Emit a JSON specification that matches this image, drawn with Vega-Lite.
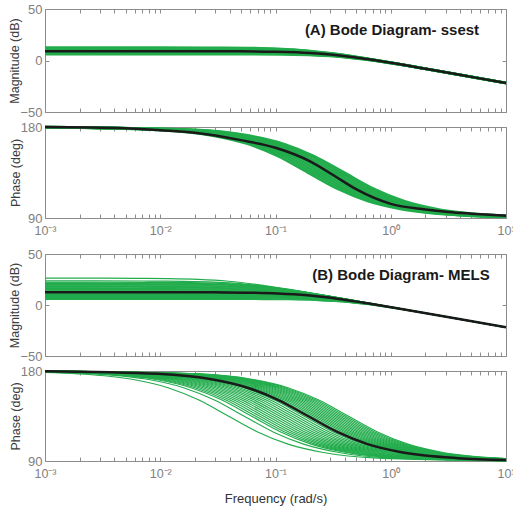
{
"$schema":"https://vega.github.io/schema/vega-lite/v6.json",
"background":"white",
"padding":{"left":8,"top":2,"right":1,"bottom":2},
"config":{"view":{"stroke":"#8c8c8c","strokeWidth":1},"font":"Liberation Sans",
"axis":{"labelFont":"Liberation Sans","titleFont":"Liberation Sans","labelColor":"#808080","tickColor":"#8c8c8c","domain":false,"grid":false,"labelFlush":false,"labelOverlap":false,"labelBound":false,"titleFontWeight":"normal","titleColor":"#3c3c3c","labelFontSize":13,"titleFontSize":12.5}},
"datasets":{
"A":[
{"c":1,"f":0.001,"m":12.5,"p":179.7},{"c":1,"f":0.009525,"m":12.49,"p":177.14},{"c":1,"f":0.02858,"m":12.4,"p":171.47},{"c":1,"f":0.05715,"m":12.13,"p":163.3},{"c":1,"f":0.1048,"m":11.35,"p":151.19},{"c":1,"f":0.1905,"m":9.49,"p":135},{"c":1,"f":0.3429,"m":6.23,"p":119.05},{"c":1,"f":0.6287,"m":1.75,"p":106.86},{"c":1,"f":1.238,"m":-3.86,"p":98.75},{"c":1,"f":3.81,"m":-13.53,"p":92.86},{"c":1,"f":10,"m":-21.9,"p":91.09},
{"c":2,"f":0.001,"m":11.7,"p":179.73},{"c":2,"f":0.01045,"m":11.69,"p":177.14},{"c":2,"f":0.03134,"m":11.6,"p":171.47},{"c":2,"f":0.06267,"m":11.33,"p":163.3},{"c":2,"f":0.1149,"m":10.55,"p":151.19},{"c":2,"f":0.2089,"m":8.69,"p":135},{"c":2,"f":0.376,"m":5.43,"p":119.05},{"c":2,"f":0.6894,"m":0.95,"p":106.86},{"c":2,"f":1.358,"m":-4.66,"p":98.75},{"c":2,"f":4.178,"m":-14.33,"p":92.86},{"c":2,"f":10,"m":-21.9,"p":91.2},
{"c":3,"f":0.001,"m":10.9,"p":179.75},{"c":3,"f":0.01146,"m":10.89,"p":177.14},{"c":3,"f":0.03437,"m":10.8,"p":171.47},{"c":3,"f":0.06873,"m":10.53,"p":163.3},{"c":3,"f":0.126,"m":9.75,"p":151.19},{"c":3,"f":0.2291,"m":7.89,"p":135},{"c":3,"f":0.4124,"m":4.63,"p":119.05},{"c":3,"f":0.756,"m":0.15,"p":106.86},{"c":3,"f":1.489,"m":-5.46,"p":98.75},{"c":3,"f":4.582,"m":-15.13,"p":92.86},{"c":3,"f":10,"m":-21.9,"p":91.31},
{"c":4,"f":0.001,"m":10.1,"p":179.77},{"c":4,"f":0.01256,"m":10.09,"p":177.14},{"c":4,"f":0.03768,"m":10.0,"p":171.47},{"c":4,"f":0.07536,"m":9.73,"p":163.3},{"c":4,"f":0.1382,"m":8.95,"p":151.19},{"c":4,"f":0.2512,"m":7.09,"p":135},{"c":4,"f":0.4522,"m":3.83,"p":119.05},{"c":4,"f":0.829,"m":-0.65,"p":106.86},{"c":4,"f":1.633,"m":-6.26,"p":98.75},{"c":4,"f":5.024,"m":-15.93,"p":92.86},{"c":4,"f":10,"m":-21.9,"p":91.44},
{"c":5,"f":0.001,"m":9.3,"p":179.79},{"c":5,"f":0.01377,"m":9.29,"p":177.14},{"c":5,"f":0.04131,"m":9.2,"p":171.47},{"c":5,"f":0.08262,"m":8.93,"p":163.3},{"c":5,"f":0.1515,"m":8.15,"p":151.19},{"c":5,"f":0.2754,"m":6.29,"p":135},{"c":5,"f":0.4957,"m":3.03,"p":119.05},{"c":5,"f":0.9088,"m":-1.45,"p":106.86},{"c":5,"f":1.79,"m":-7.06,"p":98.75},{"c":5,"f":5.508,"m":-16.73,"p":92.86},{"c":5,"f":10,"m":-21.9,"p":91.58},
{"c":6,"f":0.001,"m":8.5,"p":179.81},{"c":6,"f":0.0151,"m":8.49,"p":177.14},{"c":6,"f":0.0453,"m":8.4,"p":171.47},{"c":6,"f":0.0906,"m":8.13,"p":163.3},{"c":6,"f":0.1661,"m":7.35,"p":151.19},{"c":6,"f":0.302,"m":5.49,"p":135},{"c":6,"f":0.5436,"m":2.23,"p":119.05},{"c":6,"f":0.9966,"m":-2.25,"p":106.86},{"c":6,"f":1.963,"m":-7.86,"p":98.75},{"c":6,"f":6.04,"m":-17.53,"p":92.86},{"c":6,"f":10,"m":-21.9,"p":91.73},
{"c":7,"f":0.001,"m":7.7,"p":179.83},{"c":7,"f":0.01656,"m":7.69,"p":177.14},{"c":7,"f":0.04967,"m":7.6,"p":171.47},{"c":7,"f":0.09933,"m":7.33,"p":163.3},{"c":7,"f":0.1821,"m":6.55,"p":151.19},{"c":7,"f":0.3311,"m":4.69,"p":135},{"c":7,"f":0.596,"m":1.43,"p":119.05},{"c":7,"f":1.093,"m":-3.05,"p":106.86},{"c":7,"f":2.152,"m":-8.66,"p":98.75},{"c":7,"f":6.622,"m":-18.33,"p":92.86},{"c":7,"f":10,"m":-21.9,"p":91.9},
{"c":8,"f":0.001,"m":6.9,"p":179.84},{"c":8,"f":0.01816,"m":6.89,"p":177.14},{"c":8,"f":0.05447,"m":6.8,"p":171.47},{"c":8,"f":0.1089,"m":6.53,"p":163.3},{"c":8,"f":0.1997,"m":5.75,"p":151.19},{"c":8,"f":0.3631,"m":3.89,"p":135},{"c":8,"f":0.6536,"m":0.63,"p":119.05},{"c":8,"f":1.198,"m":-3.85,"p":106.86},{"c":8,"f":2.36,"m":-9.46,"p":98.75},{"c":8,"f":7.262,"m":-19.13,"p":92.86},{"c":8,"f":10,"m":-21.9,"p":92.08},
{"c":9,"f":0.001,"m":6.2,"p":179.85},{"c":9,"f":0.01968,"m":6.19,"p":177.14},{"c":9,"f":0.05904,"m":6.1,"p":171.47},{"c":9,"f":0.1181,"m":5.83,"p":163.3},{"c":9,"f":0.2165,"m":5.05,"p":151.19},{"c":9,"f":0.3936,"m":3.19,"p":135},{"c":9,"f":0.7085,"m":-0.07,"p":119.05},{"c":9,"f":1.299,"m":-4.55,"p":106.86},{"c":9,"f":2.558,"m":-10.16,"p":98.75},{"c":9,"f":7.872,"m":-19.83,"p":92.86},{"c":9,"f":10,"m":-21.9,"p":92.26}
],
"KA":[
{"f":0.001,"m":9.0,"p":180},{"f":0.005,"m":9.0,"p":178.8},{"f":0.01,"m":9.0,"p":176.8},{"f":0.02,"m":8.98,"p":174.3},{"f":0.05,"m":8.87,"p":167},{"f":0.1,"m":8.5,"p":159.5},{"f":0.2,"m":7.3,"p":146},{"f":0.316,"m":5.5,"p":132.5},{"f":0.5,"m":2.9,"p":118.5},{"f":1,"m":-2.2,"p":104},{"f":2,"m":-8.0,"p":98.5},{"f":3.16,"m":-11.9,"p":96},{"f":5,"m":-15.9,"p":94.3},{"f":10,"m":-21.9,"p":92.2}
],
"B":[
{"c":1,"f":0.001,"m":26.3,"p":178.53},{"c":1,"f":0.001945,"m":26.29,"p":177.14},{"c":1,"f":0.005835,"m":26.2,"p":171.47},{"c":1,"f":0.01167,"m":25.93,"p":163.3},{"c":1,"f":0.0214,"m":25.15,"p":151.19},{"c":1,"f":0.0389,"m":23.29,"p":135},{"c":1,"f":0.07002,"m":20.03,"p":119.05},{"c":1,"f":0.1284,"m":15.55,"p":106.86},{"c":1,"f":0.2529,"m":9.94,"p":98.75},{"c":1,"f":0.778,"m":0.27,"p":92.86},{"c":1,"f":10,"m":-21.9,"p":90.22},
{"c":2,"f":0.001,"m":23.6,"p":178.92},{"c":2,"f":0.002655,"m":23.59,"p":177.14},{"c":2,"f":0.007964,"m":23.5,"p":171.47},{"c":2,"f":0.01593,"m":23.23,"p":163.3},{"c":2,"f":0.0292,"m":22.45,"p":151.19},{"c":2,"f":0.05309,"m":20.59,"p":135},{"c":2,"f":0.09556,"m":17.33,"p":119.05},{"c":2,"f":0.1752,"m":12.85,"p":106.86},{"c":2,"f":0.3451,"m":7.24,"p":98.75},{"c":2,"f":1.062,"m":-2.43,"p":92.86},{"c":2,"f":10,"m":-21.9,"p":90.3},
{"c":3,"f":0.001,"m":22.3,"p":179.07},{"c":3,"f":0.003083,"m":22.29,"p":177.14},{"c":3,"f":0.009249,"m":22.2,"p":171.47},{"c":3,"f":0.0185,"m":21.93,"p":163.3},{"c":3,"f":0.03391,"m":21.15,"p":151.19},{"c":3,"f":0.06166,"m":19.29,"p":135},{"c":3,"f":0.111,"m":16.03,"p":119.05},{"c":3,"f":0.2035,"m":11.55,"p":106.86},{"c":3,"f":0.4008,"m":5.94,"p":98.75},{"c":3,"f":1.233,"m":-3.73,"p":92.86},{"c":3,"f":10,"m":-21.9,"p":90.35},
{"c":4,"f":0.001,"m":21.6,"p":179.14},{"c":4,"f":0.003342,"m":21.59,"p":177.14},{"c":4,"f":0.01002,"m":21.5,"p":171.47},{"c":4,"f":0.02005,"m":21.23,"p":163.3},{"c":4,"f":0.03676,"m":20.45,"p":151.19},{"c":4,"f":0.06683,"m":18.59,"p":135},{"c":4,"f":0.1203,"m":15.33,"p":119.05},{"c":4,"f":0.2205,"m":10.85,"p":106.86},{"c":4,"f":0.4344,"m":5.24,"p":98.75},{"c":4,"f":1.337,"m":-4.43,"p":92.86},{"c":4,"f":10,"m":-21.9,"p":90.38},
{"c":5,"f":0.001,"m":20.9,"p":179.21},{"c":5,"f":0.003622,"m":20.89,"p":177.14},{"c":5,"f":0.01087,"m":20.8,"p":171.47},{"c":5,"f":0.02173,"m":20.53,"p":163.3},{"c":5,"f":0.03984,"m":19.75,"p":151.19},{"c":5,"f":0.07244,"m":17.89,"p":135},{"c":5,"f":0.1304,"m":14.63,"p":119.05},{"c":5,"f":0.2391,"m":10.15,"p":106.86},{"c":5,"f":0.4709,"m":4.54,"p":98.75},{"c":5,"f":1.449,"m":-5.13,"p":92.86},{"c":5,"f":10,"m":-21.9,"p":90.42},
{"c":6,"f":0.001,"m":20.2,"p":179.27},{"c":6,"f":0.003926,"m":20.19,"p":177.14},{"c":6,"f":0.01178,"m":20.1,"p":171.47},{"c":6,"f":0.02356,"m":19.83,"p":163.3},{"c":6,"f":0.04319,"m":19.05,"p":151.19},{"c":6,"f":0.07852,"m":17.19,"p":135},{"c":6,"f":0.1413,"m":13.93,"p":119.05},{"c":6,"f":0.2591,"m":9.45,"p":106.86},{"c":6,"f":0.5104,"m":3.84,"p":98.75},{"c":6,"f":1.57,"m":-5.83,"p":92.86},{"c":6,"f":10,"m":-21.9,"p":90.45},
{"c":7,"f":0.001,"m":19.5,"p":179.33},{"c":7,"f":0.004256,"m":19.49,"p":177.14},{"c":7,"f":0.01277,"m":19.4,"p":171.47},{"c":7,"f":0.02553,"m":19.13,"p":163.3},{"c":7,"f":0.04681,"m":18.35,"p":151.19},{"c":7,"f":0.08511,"m":16.49,"p":135},{"c":7,"f":0.1532,"m":13.23,"p":119.05},{"c":7,"f":0.2809,"m":8.75,"p":106.86},{"c":7,"f":0.5532,"m":3.14,"p":98.75},{"c":7,"f":1.702,"m":-6.53,"p":92.86},{"c":7,"f":10,"m":-21.9,"p":90.49},
{"c":8,"f":0.001,"m":18.8,"p":179.38},{"c":8,"f":0.004613,"m":18.79,"p":177.14},{"c":8,"f":0.01384,"m":18.7,"p":171.47},{"c":8,"f":0.02768,"m":18.43,"p":163.3},{"c":8,"f":0.05074,"m":17.65,"p":151.19},{"c":8,"f":0.09226,"m":15.79,"p":135},{"c":8,"f":0.1661,"m":12.53,"p":119.05},{"c":8,"f":0.3045,"m":8.05,"p":106.86},{"c":8,"f":0.5997,"m":2.44,"p":98.75},{"c":8,"f":1.845,"m":-7.23,"p":92.86},{"c":8,"f":10,"m":-21.9,"p":90.53},
{"c":9,"f":0.001,"m":18.1,"p":179.43},{"c":9,"f":0.005,"m":18.09,"p":177.14},{"c":9,"f":0.015,"m":18.0,"p":171.47},{"c":9,"f":0.03,"m":17.73,"p":163.3},{"c":9,"f":0.055,"m":16.95,"p":151.19},{"c":9,"f":0.1,"m":15.09,"p":135},{"c":9,"f":0.18,"m":11.83,"p":119.05},{"c":9,"f":0.33,"m":7.35,"p":106.86},{"c":9,"f":0.65,"m":1.74,"p":98.75},{"c":9,"f":2,"m":-7.93,"p":92.86},{"c":9,"f":10,"m":-21.9,"p":90.57},
{"c":10,"f":0.001,"m":17.4,"p":179.47},{"c":10,"f":0.00542,"m":17.39,"p":177.14},{"c":10,"f":0.01626,"m":17.3,"p":171.47},{"c":10,"f":0.03252,"m":17.03,"p":163.3},{"c":10,"f":0.05962,"m":16.25,"p":151.19},{"c":10,"f":0.1084,"m":14.39,"p":135},{"c":10,"f":0.1951,"m":11.13,"p":119.05},{"c":10,"f":0.3577,"m":6.65,"p":106.86},{"c":10,"f":0.7046,"m":1.04,"p":98.75},{"c":10,"f":2.168,"m":-8.63,"p":92.86},{"c":10,"f":10,"m":-21.9,"p":90.62},
{"c":11,"f":0.001,"m":16.7,"p":179.51},{"c":11,"f":0.005875,"m":16.69,"p":177.14},{"c":11,"f":0.01763,"m":16.6,"p":171.47},{"c":11,"f":0.03525,"m":16.33,"p":163.3},{"c":11,"f":0.06463,"m":15.55,"p":151.19},{"c":11,"f":0.1175,"m":13.69,"p":135},{"c":11,"f":0.2115,"m":10.43,"p":119.05},{"c":11,"f":0.3878,"m":5.95,"p":106.86},{"c":11,"f":0.7638,"m":0.34,"p":98.75},{"c":11,"f":2.35,"m":-9.33,"p":92.86},{"c":11,"f":10,"m":-21.9,"p":90.67},
{"c":12,"f":0.001,"m":16.0,"p":179.55},{"c":12,"f":0.00637,"m":15.99,"p":177.14},{"c":12,"f":0.01911,"m":15.9,"p":171.47},{"c":12,"f":0.03822,"m":15.63,"p":163.3},{"c":12,"f":0.07007,"m":14.85,"p":151.19},{"c":12,"f":0.1274,"m":12.99,"p":135},{"c":12,"f":0.2293,"m":9.73,"p":119.05},{"c":12,"f":0.4204,"m":5.25,"p":106.86},{"c":12,"f":0.8281,"m":-0.36,"p":98.75},{"c":12,"f":2.548,"m":-10.03,"p":92.86},{"c":12,"f":10,"m":-21.9,"p":90.73},
{"c":13,"f":0.001,"m":15.3,"p":179.58},{"c":13,"f":0.0069,"m":15.29,"p":177.14},{"c":13,"f":0.0207,"m":15.2,"p":171.47},{"c":13,"f":0.0414,"m":14.93,"p":163.3},{"c":13,"f":0.0759,"m":14.15,"p":151.19},{"c":13,"f":0.138,"m":12.29,"p":135},{"c":13,"f":0.2484,"m":9.03,"p":119.05},{"c":13,"f":0.4554,"m":4.55,"p":106.86},{"c":13,"f":0.897,"m":-1.06,"p":98.75},{"c":13,"f":2.76,"m":-10.73,"p":92.86},{"c":13,"f":10,"m":-21.9,"p":90.79},
{"c":14,"f":0.001,"m":14.6,"p":179.62},{"c":14,"f":0.00748,"m":14.59,"p":177.14},{"c":14,"f":0.02244,"m":14.5,"p":171.47},{"c":14,"f":0.04488,"m":14.23,"p":163.3},{"c":14,"f":0.08228,"m":13.45,"p":151.19},{"c":14,"f":0.1496,"m":11.59,"p":135},{"c":14,"f":0.2693,"m":8.33,"p":119.05},{"c":14,"f":0.4937,"m":3.85,"p":106.86},{"c":14,"f":0.9724,"m":-1.76,"p":98.75},{"c":14,"f":2.992,"m":-11.43,"p":92.86},{"c":14,"f":10,"m":-21.9,"p":90.86},
{"c":15,"f":0.001,"m":13.9,"p":179.65},{"c":15,"f":0.00811,"m":13.89,"p":177.14},{"c":15,"f":0.02433,"m":13.8,"p":171.47},{"c":15,"f":0.04866,"m":13.53,"p":163.3},{"c":15,"f":0.08921,"m":12.75,"p":151.19},{"c":15,"f":0.1622,"m":10.89,"p":135},{"c":15,"f":0.292,"m":7.63,"p":119.05},{"c":15,"f":0.5353,"m":3.15,"p":106.86},{"c":15,"f":1.054,"m":-2.46,"p":98.75},{"c":15,"f":3.244,"m":-12.13,"p":92.86},{"c":15,"f":10,"m":-21.9,"p":90.93},
{"c":16,"f":0.001,"m":13.2,"p":179.67},{"c":16,"f":0.00879,"m":13.19,"p":177.14},{"c":16,"f":0.02637,"m":13.1,"p":171.47},{"c":16,"f":0.05274,"m":12.83,"p":163.3},{"c":16,"f":0.09669,"m":12.05,"p":151.19},{"c":16,"f":0.1758,"m":10.19,"p":135},{"c":16,"f":0.3164,"m":6.93,"p":119.05},{"c":16,"f":0.5801,"m":2.45,"p":106.86},{"c":16,"f":1.143,"m":-3.16,"p":98.75},{"c":16,"f":3.516,"m":-12.83,"p":92.86},{"c":16,"f":10,"m":-21.9,"p":91.01},
{"c":17,"f":0.001,"m":12.0,"p":179.72},{"c":17,"f":0.01009,"m":11.99,"p":177.14},{"c":17,"f":0.03027,"m":11.9,"p":171.47},{"c":17,"f":0.06054,"m":11.63,"p":163.3},{"c":17,"f":0.111,"m":10.85,"p":151.19},{"c":17,"f":0.2018,"m":8.99,"p":135},{"c":17,"f":0.3632,"m":5.73,"p":119.05},{"c":17,"f":0.6659,"m":1.25,"p":106.86},{"c":17,"f":1.312,"m":-4.36,"p":98.75},{"c":17,"f":4.036,"m":-14.03,"p":92.86},{"c":17,"f":10,"m":-21.9,"p":91.16},
{"c":18,"f":0.001,"m":11.5,"p":179.73},{"c":18,"f":0.01069,"m":11.49,"p":177.14},{"c":18,"f":0.03207,"m":11.4,"p":171.47},{"c":18,"f":0.06414,"m":11.13,"p":163.3},{"c":18,"f":0.1176,"m":10.35,"p":151.19},{"c":18,"f":0.2138,"m":8.49,"p":135},{"c":18,"f":0.3848,"m":5.23,"p":119.05},{"c":18,"f":0.7055,"m":0.75,"p":106.86},{"c":18,"f":1.39,"m":-4.86,"p":98.75},{"c":18,"f":4.276,"m":-14.53,"p":92.86},{"c":18,"f":10,"m":-21.9,"p":91.23},
{"c":19,"f":0.001,"m":11.0,"p":179.75},{"c":19,"f":0.01133,"m":10.99,"p":177.14},{"c":19,"f":0.03398,"m":10.9,"p":171.47},{"c":19,"f":0.06795,"m":10.63,"p":163.3},{"c":19,"f":0.1246,"m":9.85,"p":151.19},{"c":19,"f":0.2265,"m":7.99,"p":135},{"c":19,"f":0.4077,"m":4.73,"p":119.05},{"c":19,"f":0.7475,"m":0.25,"p":106.86},{"c":19,"f":1.472,"m":-5.36,"p":98.75},{"c":19,"f":4.53,"m":-15.03,"p":92.86},{"c":19,"f":10,"m":-21.9,"p":91.3},
{"c":20,"f":0.001,"m":10.5,"p":179.76},{"c":20,"f":0.012,"m":10.49,"p":177.14},{"c":20,"f":0.03599,"m":10.4,"p":171.47},{"c":20,"f":0.07197,"m":10.13,"p":163.3},{"c":20,"f":0.1319,"m":9.35,"p":151.19},{"c":20,"f":0.2399,"m":7.49,"p":135},{"c":20,"f":0.4318,"m":4.23,"p":119.05},{"c":20,"f":0.7917,"m":-0.25,"p":106.86},{"c":20,"f":1.559,"m":-5.86,"p":98.75},{"c":20,"f":4.798,"m":-15.53,"p":92.86},{"c":20,"f":10,"m":-21.9,"p":91.37},
{"c":21,"f":0.001,"m":10.0,"p":179.77},{"c":21,"f":0.01271,"m":9.99,"p":177.14},{"c":21,"f":0.03812,"m":9.9,"p":171.47},{"c":21,"f":0.07623,"m":9.63,"p":163.3},{"c":21,"f":0.1398,"m":8.85,"p":151.19},{"c":21,"f":0.2541,"m":6.99,"p":135},{"c":21,"f":0.4574,"m":3.73,"p":119.05},{"c":21,"f":0.8385,"m":-0.75,"p":106.86},{"c":21,"f":1.652,"m":-6.36,"p":98.75},{"c":21,"f":5.082,"m":-16.03,"p":92.86},{"c":21,"f":10,"m":-21.9,"p":91.46},
{"c":22,"f":0.001,"m":9.5,"p":179.79},{"c":22,"f":0.01346,"m":9.49,"p":177.14},{"c":22,"f":0.04038,"m":9.4,"p":171.47},{"c":22,"f":0.08076,"m":9.13,"p":163.3},{"c":22,"f":0.1481,"m":8.35,"p":151.19},{"c":22,"f":0.2692,"m":6.49,"p":135},{"c":22,"f":0.4846,"m":3.23,"p":119.05},{"c":22,"f":0.8884,"m":-1.25,"p":106.86},{"c":22,"f":1.75,"m":-6.86,"p":98.75},{"c":22,"f":5.384,"m":-16.53,"p":92.86},{"c":22,"f":10,"m":-21.9,"p":91.54},
{"c":23,"f":0.001,"m":9.0,"p":179.8},{"c":23,"f":0.01426,"m":8.99,"p":177.14},{"c":23,"f":0.04277,"m":8.9,"p":171.47},{"c":23,"f":0.08553,"m":8.63,"p":163.3},{"c":23,"f":0.1568,"m":7.85,"p":151.19},{"c":23,"f":0.2851,"m":5.99,"p":135},{"c":23,"f":0.5132,"m":2.73,"p":119.05},{"c":23,"f":0.9408,"m":-1.75,"p":106.86},{"c":23,"f":1.853,"m":-7.36,"p":98.75},{"c":23,"f":5.702,"m":-17.03,"p":92.86},{"c":23,"f":10,"m":-21.9,"p":91.63},
{"c":24,"f":0.001,"m":8.5,"p":179.81},{"c":24,"f":0.0151,"m":8.49,"p":177.14},{"c":24,"f":0.0453,"m":8.4,"p":171.47},{"c":24,"f":0.0906,"m":8.13,"p":163.3},{"c":24,"f":0.1661,"m":7.35,"p":151.19},{"c":24,"f":0.302,"m":5.49,"p":135},{"c":24,"f":0.5436,"m":2.23,"p":119.05},{"c":24,"f":0.9966,"m":-2.25,"p":106.86},{"c":24,"f":1.963,"m":-7.86,"p":98.75},{"c":24,"f":6.04,"m":-17.53,"p":92.86},{"c":24,"f":10,"m":-21.9,"p":91.73},
{"c":25,"f":0.001,"m":8.0,"p":179.82},{"c":25,"f":0.016,"m":7.99,"p":177.14},{"c":25,"f":0.04799,"m":7.9,"p":171.47},{"c":25,"f":0.09597,"m":7.63,"p":163.3},{"c":25,"f":0.1759,"m":6.85,"p":151.19},{"c":25,"f":0.3199,"m":4.99,"p":135},{"c":25,"f":0.5758,"m":1.73,"p":119.05},{"c":25,"f":1.056,"m":-2.75,"p":106.86},{"c":25,"f":2.079,"m":-8.36,"p":98.75},{"c":25,"f":6.398,"m":-18.03,"p":92.86},{"c":25,"f":10,"m":-21.9,"p":91.83},
{"c":26,"f":0.001,"m":7.5,"p":179.83},{"c":26,"f":0.01694,"m":7.49,"p":177.14},{"c":26,"f":0.05082,"m":7.4,"p":171.47},{"c":26,"f":0.1016,"m":7.13,"p":163.3},{"c":26,"f":0.1863,"m":6.35,"p":151.19},{"c":26,"f":0.3388,"m":4.49,"p":135},{"c":26,"f":0.6098,"m":1.23,"p":119.05},{"c":26,"f":1.118,"m":-3.25,"p":106.86},{"c":26,"f":2.202,"m":-8.86,"p":98.75},{"c":26,"f":6.776,"m":-18.53,"p":92.86},{"c":26,"f":10,"m":-21.9,"p":91.94},
{"c":27,"f":0.001,"m":7.0,"p":179.84},{"c":27,"f":0.01795,"m":6.99,"p":177.14},{"c":27,"f":0.05384,"m":6.9,"p":171.47},{"c":27,"f":0.1077,"m":6.63,"p":163.3},{"c":27,"f":0.1974,"m":5.85,"p":151.19},{"c":27,"f":0.3589,"m":3.99,"p":135},{"c":27,"f":0.646,"m":0.73,"p":119.05},{"c":27,"f":1.184,"m":-3.75,"p":106.86},{"c":27,"f":2.333,"m":-9.36,"p":98.75},{"c":27,"f":7.178,"m":-19.03,"p":92.86},{"c":27,"f":10,"m":-21.9,"p":92.06},
{"c":28,"f":0.001,"m":6.5,"p":179.85},{"c":28,"f":0.01901,"m":6.49,"p":177.14},{"c":28,"f":0.05703,"m":6.4,"p":171.47},{"c":28,"f":0.1141,"m":6.13,"p":163.3},{"c":28,"f":0.2091,"m":5.35,"p":151.19},{"c":28,"f":0.3802,"m":3.49,"p":135},{"c":28,"f":0.6844,"m":0.23,"p":119.05},{"c":28,"f":1.255,"m":-4.25,"p":106.86},{"c":28,"f":2.471,"m":-9.86,"p":98.75},{"c":28,"f":7.604,"m":-19.53,"p":92.86},{"c":28,"f":10,"m":-21.9,"p":92.18},
{"c":29,"f":0.001,"m":6.0,"p":179.86},{"c":29,"f":0.02014,"m":5.99,"p":177.14},{"c":29,"f":0.0604,"m":5.9,"p":171.47},{"c":29,"f":0.1208,"m":5.63,"p":163.3},{"c":29,"f":0.2215,"m":4.85,"p":151.19},{"c":29,"f":0.4027,"m":2.99,"p":135},{"c":29,"f":0.7249,"m":-0.27,"p":119.05},{"c":29,"f":1.329,"m":-4.75,"p":106.86},{"c":29,"f":2.618,"m":-10.36,"p":98.75},{"c":29,"f":8.054,"m":-20.03,"p":92.86},{"c":29,"f":10,"m":-21.9,"p":92.31},
{"c":30,"f":0.001,"m":5.5,"p":179.87},{"c":30,"f":0.02133,"m":5.49,"p":177.14},{"c":30,"f":0.064,"m":5.4,"p":171.47},{"c":30,"f":0.128,"m":5.13,"p":163.3},{"c":30,"f":0.2346,"m":4.35,"p":151.19},{"c":30,"f":0.4266,"m":2.49,"p":135},{"c":30,"f":0.7679,"m":-0.77,"p":119.05},{"c":30,"f":1.408,"m":-5.25,"p":106.86},{"c":30,"f":2.773,"m":-10.86,"p":98.75},{"c":30,"f":8.532,"m":-20.53,"p":92.86},{"c":30,"f":10,"m":-21.9,"p":92.44}
],
"KB":[
{"f":0.001,"m":12.5,"p":179.7},{"f":0.009525,"m":12.49,"p":177.14},{"f":0.02858,"m":12.4,"p":171.47},{"f":0.05715,"m":12.13,"p":163.3},{"f":0.1048,"m":11.35,"p":151.19},{"f":0.1905,"m":9.49,"p":135},{"f":0.3429,"m":6.23,"p":119.05},{"f":0.6287,"m":1.75,"p":106.86},{"f":1.238,"m":-3.86,"p":98.75},{"f":3.81,"m":-13.53,"p":92.86},{"f":10,"m":-21.9,"p":91.09}
]
},
"vconcat":[
{"vconcat":[
{"width":461,"height":103,"resolve":{"axis":{"x":"independent","y":"independent"}},"layer":[
{"data":{"name":"A"},"mark":{"type":"line","interpolate":"monotone","color":"#22ac4c","strokeWidth":2.6},
"encoding":{"x":{"field":"f","type":"quantitative","scale":{"type":"log","domain":[0.001,10],"nice":false},"axis":{"orient":"bottom","values":[0.001,0.002,0.003,0.004,0.005,0.006,0.007,0.008,0.009,0.01,0.02,0.03,0.04,0.05,0.06,0.07,0.08,0.09,0.1,0.2,0.3,0.4,0.5,0.6,0.7,0.8,0.9,1,2,3,4,5,6,7,8,9,10],"labels":false,"tickSize":-4,"title":null}},
"y":{"field":"m","type":"quantitative","scale":{"domain":[-50,50],"nice":false,"zero":false},"axis":{"orient":"left","values":[-50,0,50],"tickSize":-4,"labelPadding":7,"title":"Magnitude (dB)","titlePadding":-2}},
"detail":{"field":"c","type":"nominal"}}},
{"data":{"name":"KA"},"mark":{"type":"line","interpolate":"monotone","color":"#1a1a1a","strokeWidth":2.5},
"encoding":{"x":{"field":"f","type":"quantitative","axis":{"orient":"top","values":[0.001,0.002,0.003,0.004,0.005,0.006,0.007,0.008,0.009,0.01,0.02,0.03,0.04,0.05,0.06,0.07,0.08,0.09,0.1,0.2,0.3,0.4,0.5,0.6,0.7,0.8,0.9,1,2,3,4,5,6,7,8,9,10],"labels":false,"tickSize":-4,"title":null}},
"y":{"field":"m","type":"quantitative","axis":{"orient":"right","values":[-50,0,50],"labels":false,"tickSize":-4,"title":null}}}},
{"data":{"values":[{"t":"(A) Bode Diagram- ssest"}]},"mark":{"type":"text","fontSize":15,"fontWeight":"bold","font":"Liberation Sans","color":"#1a1a1a","align":"center","baseline":"alphabetic"},
"encoding":{"x":{"datum":1.025,"type":"quantitative","axis":null},"y":{"datum":25,"type":"quantitative","axis":null},"text":{"field":"t"}}}
]},
{"width":461,"height":91,"resolve":{"axis":{"x":"independent","y":"independent"}},"layer":[
{"data":{"name":"A"},"mark":{"type":"line","interpolate":"monotone","color":"#22ac4c","strokeWidth":2.6},
"encoding":{"x":{"field":"f","type":"quantitative","scale":{"type":"log","domain":[0.001,10],"nice":false},"axis":{"orient":"bottom","values":[0.001,0.002,0.003,0.004,0.005,0.006,0.007,0.008,0.009,0.01,0.02,0.03,0.04,0.05,0.06,0.07,0.08,0.09,0.1,0.2,0.3,0.4,0.5,0.6,0.7,0.8,0.9,1,2,3,4,5,6,7,8,9,10],"labelExpr":"datum.value==0.001?'10⁻³':datum.value==0.01?'10⁻²':datum.value==0.1?'10⁻¹':datum.value==1?'10⁰':datum.value==10?'10¹':''","labelFontSize":12.5,"labelPadding":10,"tickSize":-4,"title":null}},
"y":{"field":"p","type":"quantitative","scale":{"domain":[90,180],"nice":false,"zero":false},"axis":{"orient":"left","values":[90,180],"tickSize":-4,"labelPadding":7,"title":"Phase (deg)","titlePadding":-2}},
"detail":{"field":"c","type":"nominal"}}},
{"data":{"name":"KA"},"mark":{"type":"line","interpolate":"monotone","color":"#1a1a1a","strokeWidth":2.5},
"encoding":{"x":{"field":"f","type":"quantitative","axis":{"orient":"top","values":[0.001,0.002,0.003,0.004,0.005,0.006,0.007,0.008,0.009,0.01,0.02,0.03,0.04,0.05,0.06,0.07,0.08,0.09,0.1,0.2,0.3,0.4,0.5,0.6,0.7,0.8,0.9,1,2,3,4,5,6,7,8,9,10],"labels":false,"tickSize":-4,"title":null}},
"y":{"field":"p","type":"quantitative","axis":{"orient":"right","values":[90,180],"labels":false,"tickSize":-4,"title":null}}}}
]}
],"spacing":0},
{"vconcat":[
{"width":461,"height":102,"resolve":{"axis":{"x":"independent","y":"independent"}},"layer":[
{"data":{"name":"B"},"mark":{"type":"line","interpolate":"monotone","color":"#22ac4c","strokeWidth":1.2},
"encoding":{"x":{"field":"f","type":"quantitative","scale":{"type":"log","domain":[0.001,10],"nice":false},"axis":{"orient":"bottom","values":[0.001,0.002,0.003,0.004,0.005,0.006,0.007,0.008,0.009,0.01,0.02,0.03,0.04,0.05,0.06,0.07,0.08,0.09,0.1,0.2,0.3,0.4,0.5,0.6,0.7,0.8,0.9,1,2,3,4,5,6,7,8,9,10],"labels":false,"tickSize":-4,"title":null}},
"y":{"field":"m","type":"quantitative","scale":{"domain":[-50,50],"nice":false,"zero":false},"axis":{"orient":"left","values":[-50,0,50],"tickSize":-4,"labelPadding":7,"title":"Magnitude (dB)","titlePadding":-2}},
"detail":{"field":"c","type":"nominal"}}},
{"data":{"name":"KB"},"mark":{"type":"line","interpolate":"monotone","color":"#1a1a1a","strokeWidth":2.5},
"encoding":{"x":{"field":"f","type":"quantitative","axis":{"orient":"top","values":[0.001,0.002,0.003,0.004,0.005,0.006,0.007,0.008,0.009,0.01,0.02,0.03,0.04,0.05,0.06,0.07,0.08,0.09,0.1,0.2,0.3,0.4,0.5,0.6,0.7,0.8,0.9,1,2,3,4,5,6,7,8,9,10],"labels":false,"tickSize":-4,"title":null}},
"y":{"field":"m","type":"quantitative","axis":{"orient":"right","values":[-50,0,50],"labels":false,"tickSize":-4,"title":null}}}},
{"data":{"values":[{"t":"(B) Bode Diagram- MELS"}]},"mark":{"type":"text","fontSize":15,"fontWeight":"bold","font":"Liberation Sans","color":"#1a1a1a","align":"center","baseline":"alphabetic"},
"encoding":{"x":{"datum":1.228,"type":"quantitative","axis":null},"y":{"datum":25,"type":"quantitative","axis":null},"text":{"field":"t"}}}
]},
{"width":461,"height":90,"resolve":{"axis":{"x":"independent","y":"independent"}},"layer":[
{"data":{"name":"B"},"mark":{"type":"line","interpolate":"monotone","color":"#22ac4c","strokeWidth":1.2},
"encoding":{"x":{"field":"f","type":"quantitative","scale":{"type":"log","domain":[0.001,10],"nice":false},"axis":{"orient":"bottom","values":[0.001,0.002,0.003,0.004,0.005,0.006,0.007,0.008,0.009,0.01,0.02,0.03,0.04,0.05,0.06,0.07,0.08,0.09,0.1,0.2,0.3,0.4,0.5,0.6,0.7,0.8,0.9,1,2,3,4,5,6,7,8,9,10],"labelExpr":"datum.value==0.001?'10⁻³':datum.value==0.01?'10⁻²':datum.value==0.1?'10⁻¹':datum.value==1?'10⁰':datum.value==10?'10¹':''","labelFontSize":12.5,"labelPadding":10,"tickSize":-4,"title":"Frequency  (rad/s)","titleFontSize":13,"titleColor":"#333333","titlePadding":13}},
"y":{"field":"p","type":"quantitative","scale":{"domain":[90,180],"nice":false,"zero":false},"axis":{"orient":"left","values":[90,180],"tickSize":-4,"labelPadding":7,"title":"Phase (deg)","titlePadding":-2}},
"detail":{"field":"c","type":"nominal"}}},
{"data":{"name":"KB"},"mark":{"type":"line","interpolate":"monotone","color":"#1a1a1a","strokeWidth":2.5},
"encoding":{"x":{"field":"f","type":"quantitative","axis":{"orient":"top","values":[0.001,0.002,0.003,0.004,0.005,0.006,0.007,0.008,0.009,0.01,0.02,0.03,0.04,0.05,0.06,0.07,0.08,0.09,0.1,0.2,0.3,0.4,0.5,0.6,0.7,0.8,0.9,1,2,3,4,5,6,7,8,9,10],"labels":false,"tickSize":-4,"title":null}},
"y":{"field":"p","type":"quantitative","axis":{"orient":"right","values":[90,180],"labels":false,"tickSize":-4,"title":null}}}}
]}
],"spacing":0}
],
"spacing":10
}
